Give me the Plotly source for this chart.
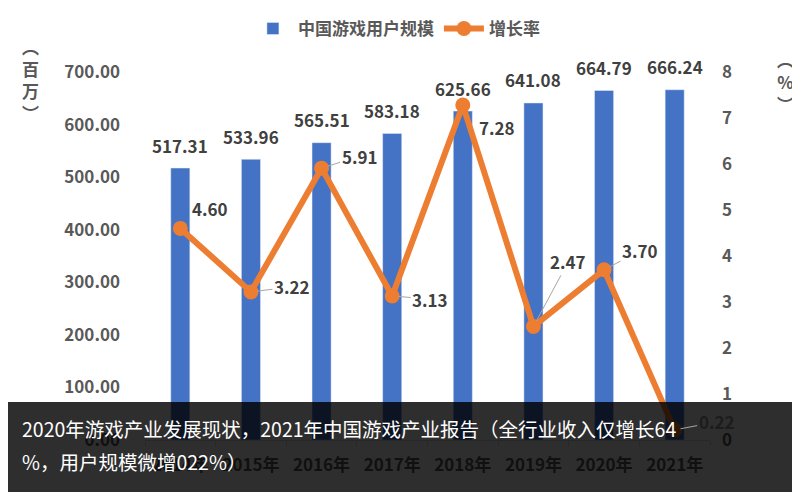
import plotly.graph_objects as go

years = ["2014年", "2015年", "2016年", "2017年", "2018年", "2019年", "2020年", "2021年"]
users = [517.31, 533.96, 565.51, 583.18, 625.66, 641.08, 664.79, 666.24]
growth = [4.60, 3.22, 5.91, 3.13, 7.28, 2.47, 3.70, 0.22]
left_ticks = [0, 100, 200, 300, 400, 500, 600, 700]
right_ticks = [0, 1, 2, 3, 4, 5, 6, 7, 8]
caption_lines = [
    "2020年游戏产业发展现状，2021年中国游戏产业报告（全行业收入仅增长64",
    "%，用户规模微增022%）",
]

# label offsets (px) for the growth labels, and which get a leader line
label_dx = [30, 41, 38, 38, 34, 35, 36, 42]
label_dy = [-20, -5, -12, 3, 22, -65, -19, -8]
leader = [False, True, True, True, False, True, True, True]

FONT = "Noto Sans CJK SC, Microsoft YaHei, sans-serif"
GREY = "#595959"
LABEL = "#404040"

fig = go.Figure()
fig.add_trace(go.Bar(
    x=years, y=users, name="中国游戏用户规模",
    marker=dict(color="#4472C4"),
))
fig.add_trace(go.Scatter(
    x=years, y=growth, name="增长率", yaxis="y2",
    mode="lines+markers",
    line=dict(color="#ED7D31", width=6),
    marker=dict(color="#ED7D31", size=15),
))

annotations = []
for yr, v in zip(years, users):
    annotations.append(dict(
        x=yr, y=v, xref="x", yref="y", text=f"{v:.2f}", showarrow=False,
        yshift=23, font=dict(family=FONT, size=17, color=LABEL, weight="bold"),
    ))

for i, (yr, g) in enumerate(zip(years, growth)):
    # the last label sits under the dark caption band
    col = "#1c1c1c" if i == len(years) - 1 else LABEL
    annotations.append(dict(
        x=yr, y=g, xref="x", yref="y2", text=f"{g:.2f}",
        showarrow=True, arrowhead=0, arrowwidth=1, standoff=6,
        arrowcolor="#A6A6A6" if leader[i] else "rgba(0,0,0,0)",
        ax=label_dx[i], ay=label_dy[i],
        font=dict(family=FONT, size=17, color=col, weight="bold"),
    ))

# axis titles (vertical)
annotations.append(dict(
    x=-0.2035, y=0.98, xref="paper", yref="paper", xanchor="center", yanchor="middle",
    text="︵<br>百<br>万<br>︶",
    showarrow=False, font=dict(family=FONT, size=17, color=GREY, weight="bold"),
))
annotations.append(dict(
    x=1.133, y=0.975, xref="paper", yref="paper", xanchor="center", yanchor="middle",
    text="︵<br>%<br>︶",
    showarrow=False, font=dict(family=FONT, size=17, color=GREY, weight="bold"),
))

# caption over the dark band
for line, yy in zip(caption_lines, [0.032, -0.058]):
    annotations.append(dict(
        x=-0.2212, y=yy, xref="paper", yref="paper", xanchor="left", yanchor="middle",
        align="left", text=line, showarrow=False,
        font=dict(family=FONT, size=19.5, color="white"),
    ))

# the page body has an 8px margin, so the figure is 8px smaller than the window
fig.update_layout(
    width=792, height=484,
    margin=dict(l=137, r=90, t=64, b=52, autoexpand=False),
    plot_bgcolor="white", paper_bgcolor="white",
    bargap=0.73,
    font=dict(family=FONT, color=GREY),
    legend=dict(
        orientation="h", x=0.445, y=1.117, xanchor="center", yanchor="middle",
        font=dict(family=FONT, size=17, color=GREY, weight="bold"),
        itemwidth=40,
    ),
    xaxis=dict(
        range=[-0.5, len(years) - 0.5],
        showgrid=False, showline=True, linecolor="#D9D9D9",
        ticks="outside", tickson="boundaries", ticklen=5, tickcolor="#D9D9D9",
        tickfont=dict(family=FONT, size=17, color=GREY, weight="bold"),
        ticklabelstandoff=10,
    ),
    yaxis=dict(
        range=[0, 700], tickvals=left_ticks, tickformat=".2f",
        showgrid=False, zeroline=False,
        tickfont=dict(family=FONT, size=17, color=GREY, weight="bold"),
        ticklabelstandoff=24,
    ),
    yaxis2=dict(
        range=[0, 8], tickvals=right_ticks, overlaying="y", side="right",
        showgrid=False, zeroline=False,
        tickfont=dict(family=FONT, size=17, color=GREY, weight="bold"),
        ticklabelstandoff=11,
    ),
    shapes=[dict(
        type="rect", xref="paper", yref="paper",
        x0=-0.2425, x1=1.1593, y0=-0.1413, y1=0.1033,
        fillcolor="rgba(0,0,0,0.82)", line=dict(width=0), layer="above",
    )],
    annotations=annotations,
)

fig.write_html("out.html")
